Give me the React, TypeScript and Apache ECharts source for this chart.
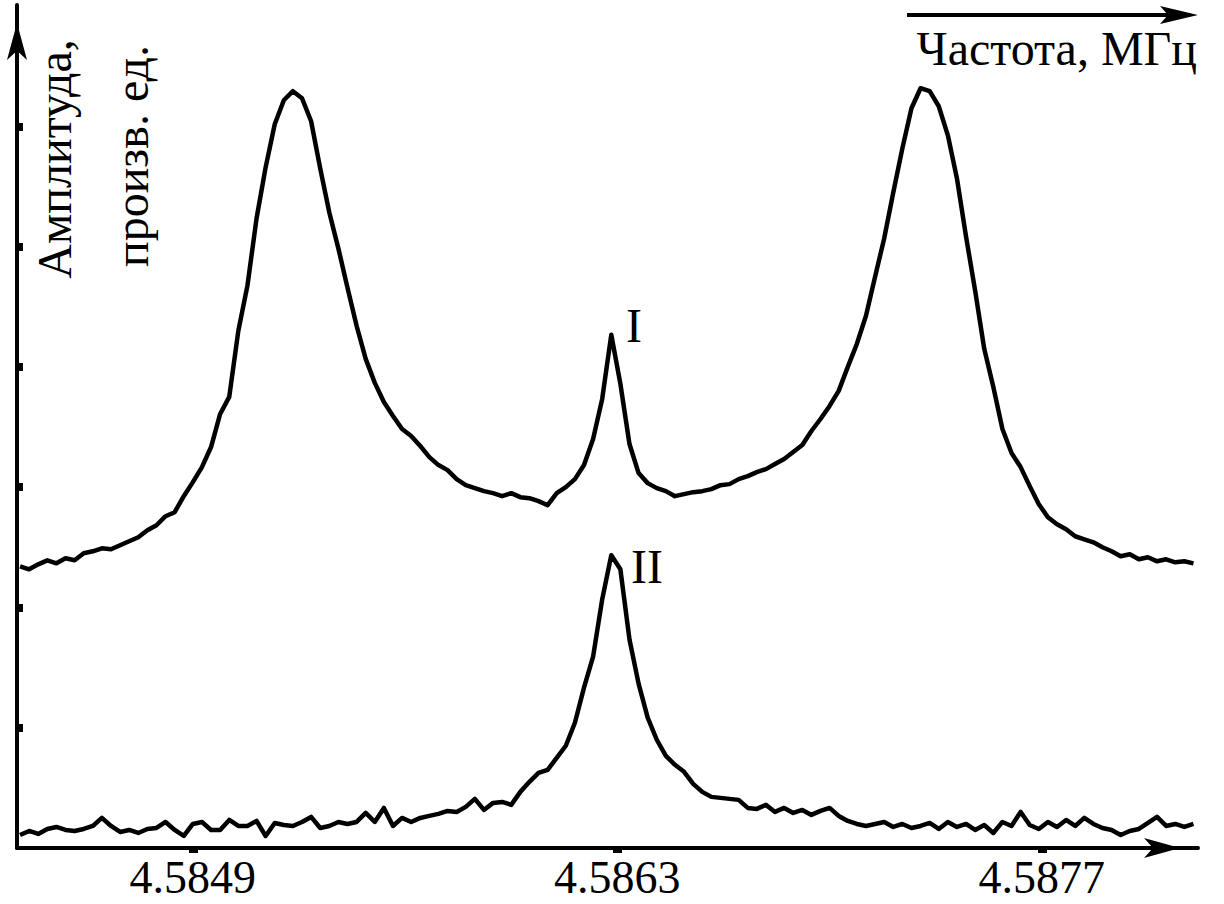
import React, { useEffect, useRef } from "react";
import * as echarts from "echarts";

// Frequency sweep (MHz)
const FREQ_MHZ = [
  4.58433, 4.58436, 4.58439, 4.58442, 4.58445, 4.58448, 4.58451, 4.58454, 4.58457, 4.5846,
  4.58463, 4.58466, 4.58469, 4.58472, 4.58475, 4.58478, 4.58481, 4.58484, 4.58487, 4.5849,
  4.58493, 4.58496, 4.58499, 4.58502, 4.58505, 4.58508, 4.58511, 4.58514, 4.58517, 4.5852,
  4.58523, 4.58526, 4.58529, 4.58532, 4.58535, 4.58538, 4.58541, 4.58544, 4.58547, 4.5855,
  4.58553, 4.58556, 4.58559, 4.58562, 4.58565, 4.58568, 4.58571, 4.58574, 4.58577, 4.5858,
  4.58583, 4.58586, 4.58589, 4.58592, 4.58595, 4.58598, 4.58601, 4.58604, 4.58607, 4.5861,
  4.58613, 4.58616, 4.58619, 4.58622, 4.58625, 4.58628, 4.58631, 4.58634, 4.58637, 4.5864,
  4.58643, 4.58646, 4.58649, 4.58652, 4.58655, 4.58658, 4.58661, 4.58664, 4.58667, 4.5867,
  4.58673, 4.58676, 4.58679, 4.58682, 4.58685, 4.58688, 4.58691, 4.58694, 4.58697, 4.587,
  4.58703, 4.58706, 4.58709, 4.58712, 4.58715, 4.58718, 4.58721, 4.58724, 4.58727, 4.5873,
  4.58733, 4.58736, 4.58739, 4.58742, 4.58745, 4.58748, 4.58751, 4.58754, 4.58757, 4.5876,
  4.58763, 4.58766, 4.58769, 4.58772, 4.58775, 4.58778, 4.58781, 4.58784, 4.58787, 4.5879,
  4.58793, 4.58796, 4.58799, 4.58802, 4.58805, 4.58808, 4.58811, 4.58814, 4.58817, 4.5882,
];

// Curve I amplitude (arb. units)
const AMP_I = [
  281, 278, 283, 287, 284, 289, 287, 294, 296, 299,
  298, 302, 306, 310, 317, 322, 331, 335, 351, 365,
  380, 400, 433, 450, 516, 561, 628, 679, 722, 746,
  755, 748, 725, 678, 634, 598, 559, 521, 488, 464,
  445, 431, 418, 411, 401, 390, 382, 377, 368, 362,
  359, 356, 354, 351, 354, 350, 349, 346, 342, 354,
  360, 368, 382, 408, 448, 512, 463, 403, 374, 364,
  359, 356, 351, 353, 355, 356, 358, 362, 363, 368,
  371, 375, 378, 383, 388, 395, 402, 416, 428, 441,
  456, 480, 503, 531, 570, 608, 654, 698, 738, 758,
  755, 740, 711, 668, 610, 556, 498, 460, 418, 394,
  380, 361, 343, 330, 323, 318, 311, 308, 305, 300,
  296, 291, 293, 288, 290, 286, 288, 285, 286, 284,
];

// Curve II amplitude (arb. units)
const AMP_II = [
  13, 17, 14, 19, 21, 18, 17, 19, 22, 30,
  22, 16, 18, 15, 19, 20, 26, 18, 12, 24,
  26, 18, 18, 28, 22, 22, 27, 12, 25, 23,
  22, 26, 31, 20, 22, 26, 24, 26, 35, 26,
  40, 22, 30, 26, 30, 32, 34, 37, 36, 41,
  49, 38, 45, 46, 43, 56, 66, 75, 78, 90,
  102, 125, 160, 191, 248, 292, 278, 208, 164, 130,
  108, 92, 83, 76, 64, 56, 51, 50, 49, 48,
  40, 39, 43, 36, 40, 35, 38, 33, 37, 40,
  32, 27, 24, 22, 24, 26, 21, 24, 20, 22,
  25, 19, 26, 21, 24, 18, 23, 15, 26, 22,
  36, 23, 19, 26, 21, 28, 22, 30, 24, 20,
  18, 13, 17, 19, 25, 31, 22, 24, 21, 24,
];

const X_TICKS = [4.5849, 4.5863, 4.5877];
const Y_TICKS = [120, 240, 360, 480, 600, 720];
const X_TITLE = "Частота, МГц";
const Y_TITLE_1 = "Амплитуда,";
const Y_TITLE_2 = "произв. ед.";
const CURVE_LABELS = ["I", "II"];

const FAMILY = "Liberation Serif";

function textStyle(text: string, align: string) {
  return {
    text,
    fontFamily: FAMILY,
    fontSize: 48,
    fontWeight: "normal",
    fill: "#000",
    align,
    verticalAlign: "middle",
  };
}

export default function App() {
  const ref = useRef<HTMLDivElement>(null);

  useEffect(() => {
    if (!ref.current) return;
    const chart = echarts.init(ref.current, null, { renderer: "svg" });
    const dataI = FREQ_MHZ.map((f, i) => [f, AMP_I[i]]);
    const dataII = FREQ_MHZ.map((f, i) => [f, AMP_II[i]]);

    chart.setOption({
      animation: false,
      backgroundColor: "#ffffff",
      textStyle: { fontFamily: FAMILY },
      grid: { left: 17, right: 26, top: 5, bottom: 56, containLabel: false },
      xAxis: {
        type: "value",
        min: 4.58432,
        max: 4.588215,
        axisLine: {
          show: true,
          symbol: ["none", "arrow"],
          symbolSize: [15, 36],
          symbolOffset: [0, -18],
          lineStyle: { color: "#000", width: 4 },
        },
        axisTick: {
          show: true,
          customValues: X_TICKS,
          length: 5,
          lineStyle: { color: "#000", width: 9 },
        },
        axisLabel: {
          show: true,
          customValues: X_TICKS,
          formatter: (v: number) => v.toFixed(4),
          color: "#000",
          fontFamily: FAMILY,
          fontSize: 46,
          margin: 6,
        },
        splitLine: { show: false },
      },
      yAxis: {
        type: "value",
        min: 0,
        max: 841,
        axisLine: {
          show: true,
          symbol: ["none", "arrow"],
          symbolSize: [15, 37],
          symbolOffset: [0, -18],
          lineStyle: { color: "#000", width: 4 },
        },
        axisTick: {
          show: true,
          inside: true,
          customValues: Y_TICKS,
          length: 6,
          lineStyle: { color: "#000", width: 8 },
        },
        axisLabel: { show: false },
        splitLine: { show: false },
      },
      series: [
        {
          type: "line",
          data: dataI,
          showSymbol: false,
          clip: false,
          lineStyle: { color: "#000", width: 4.5, join: "round" },
        },
        {
          type: "line",
          data: dataII,
          showSymbol: false,
          clip: false,
          lineStyle: { color: "#000", width: 4.5, join: "round" },
        },
      ],
      graphic: [
        {
          type: "line",
          shape: { x1: 907, y1: 15, x2: 1172, y2: 15 },
          style: { stroke: "#000", lineWidth: 4 },
        },
        {
          type: "polygon",
          shape: { points: [[1198, 15], [1160, 6], [1168, 15], [1160, 24]] },
          style: { fill: "#000" },
        },
        { type: "text", x: 1197, y: 48, style: textStyle(X_TITLE, "right") },
        { type: "text", x: 54, y: 159, rotation: Math.PI / 2, style: textStyle(Y_TITLE_1, "center") },
        { type: "text", x: 131, y: 156, rotation: Math.PI / 2, style: textStyle(Y_TITLE_2, "center") },
        { type: "text", x: 626, y: 325, style: textStyle(CURVE_LABELS[0], "left") },
        { type: "text", x: 631, y: 566, style: textStyle(CURVE_LABELS[1], "left") },
      ],
    });

    return () => chart.dispose();
  }, []);

  return (
    <div
      ref={ref}
      style={{ position: "fixed", left: 0, top: 0, width: 1224, height: 904, background: "#fff" }}
    />
  );
}
